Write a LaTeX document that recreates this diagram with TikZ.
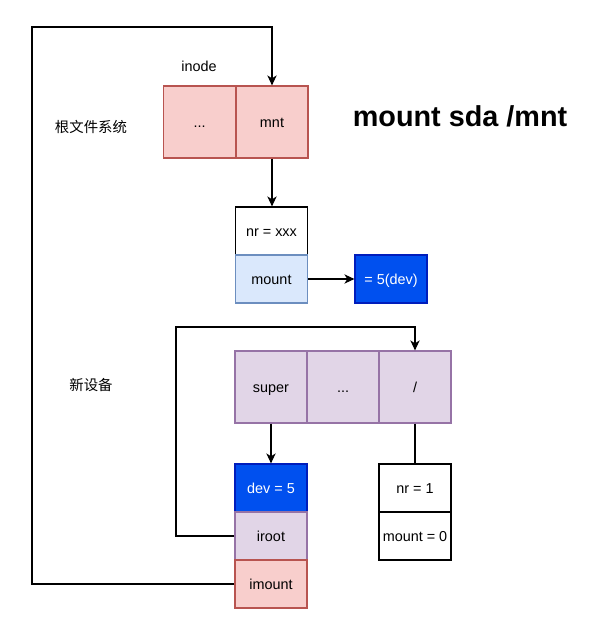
\documentclass[tikz,border=0pt]{standalone}
\usepackage{fontspec}
\setmainfont{Liberation Sans}
\newfontfamily\cjk{Noto Sans CJK SC}
\usetikzlibrary{arrows.meta}
\definecolor{redfill}{HTML}{F8CECC}
\definecolor{redline}{HTML}{B85450}
\definecolor{bluefill}{HTML}{DAE8FC}
\definecolor{blueline}{HTML}{6C8EBF}
\definecolor{darkfill}{HTML}{0050EF}
\definecolor{darkline}{HTML}{001DBC}
\definecolor{purpfill}{HTML}{E1D5E7}
\definecolor{purpline}{HTML}{9673A6}
\tikzset{
  cell/.style={rectangle, draw, line width=0.9pt, inner sep=0pt, font=\fontsize{10.8}{13}\selectfont, text=black, text height=9pt, text depth=0.5pt},
  sq/.style={cell, minimum width=54pt, minimum height=54pt},
  fl/.style={cell, minimum width=54pt, minimum height=36pt},
  redc/.style={fill=redfill, draw=redline},
  bluec/.style={fill=bluefill, draw=blueline},
  darkc/.style={fill=darkfill, draw=darkline, text=white},
  purpc/.style={fill=purpfill, draw=purpline},
  whitec/.style={fill=white, draw=black},
  conn/.style={line width=0.9pt, draw=black},
  arr/.style={conn, -{Stealth[length=7.5pt, width=7pt, inset=2.2pt]}},
  lbl/.style={font=\fontsize{10.8}{13}\selectfont, inner sep=0pt}
}
\begin{document}
\begin{tikzpicture}[x=0.75pt, y=-0.75pt]
\useasboundingbox (0,0) rectangle (606,629);
% top inode row
\node[sq, redc] (dots1) at (199.5,122) {...};
\node[sq, redc] (mnt) at (272,122) {mnt};
% nr / mount
\node[fl, whitec] (nrx) at (271.5,231) {nr = xxx};
\node[fl, bluec] (mount) at (271.5,279) {mount};
\node[fl, darkc] (dev) at (391,279) {= 5(dev)};
% super row
\node[sq, purpc] (super) at (271,387) {super};
\node[sq, purpc] (dots2) at (343,387) {...};
\node[sq, purpc] (slash) at (415,387) {/};
% lower stack
\node[fl, darkc] (dev5) at (271,488) {dev = 5};
\node[fl, purpc] (iroot) at (271,536) {iroot};
\node[fl, redc] (imount) at (271,584) {imount};
\node[fl, whitec] (nr1) at (415,488) {nr = 1};
\node[fl, whitec] (mount0) at (415,536) {mount = 0};
% labels
\node[lbl] (inode) at (199,66) {inode};
\node[lbl] (rootfs) at (91,127) {\cjk 根文件系统};
\node[lbl] (newdev) at (91,385) {\cjk 新设备};
\node[font=\fontsize{21.6}{26}\selectfont\bfseries, inner sep=0pt] (title) at (460,116) {mount sda /mnt};
% connectors
\coordinate (ul) at (32,27);
\coordinate (ul2) at (176,327);
\draw[arr] (imount.west) -| (ul) -| (mnt.north);
\draw[arr] (iroot.west) -| (ul2) -| (slash.north);
\draw[arr] (mnt.south) -- (mnt.south |- nrx.north);
\draw[arr] (mount.east) -- (dev.west);
\draw[arr] (super.south) -- (dev5.north);
\draw[conn] (slash.south) -- (nr1.north);
\end{tikzpicture}
\end{document}
